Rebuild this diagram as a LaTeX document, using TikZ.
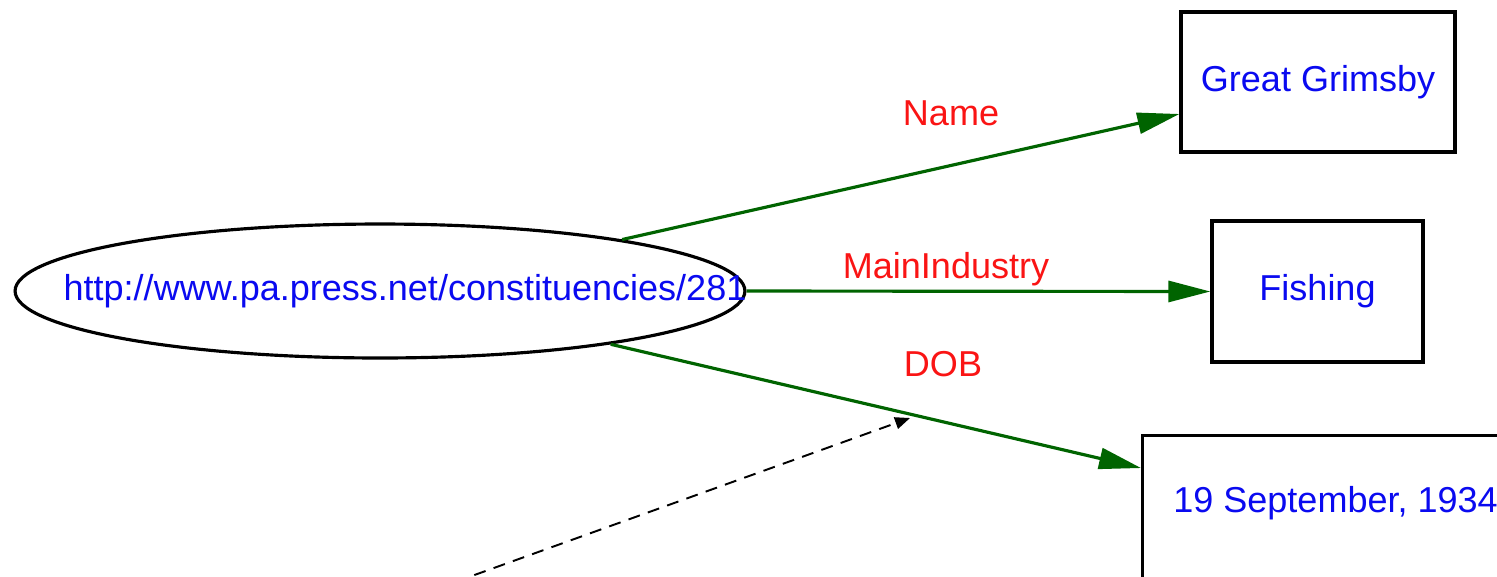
\documentclass[tikz,border=0pt]{standalone}
\usepackage{fontspec}
\setmainfont{Liberation Sans}
\usetikzlibrary{shapes.geometric,arrows.meta,calc}

\definecolor{edgegreen}{RGB}{0,100,0}
\definecolor{valblue}{RGB}{10,10,240}
\definecolor{labred}{RGB}{250,20,20}

\tikzset{
  txt/.style={font=\fontsize{20.5pt}{24pt}\selectfont, inner sep=0pt},
  valtext/.style={txt, text=valblue},
  proplabel/.style={txt, text=labred, anchor=base},
  resource/.style={ellipse, draw=black, line width=1.8pt, inner sep=0pt},
  literal/.style={rectangle, draw=black, line width=1.9pt, inner sep=0pt, txt, text=valblue},
  property/.style={draw=edgegreen, line width=1.8pt,
    -{Triangle[length=0.84cm, width=0.42cm, fill=edgegreen]}},
  pointer/.style={draw=black, line width=1.1pt, dash pattern=on 0.24cm off 0.17cm,
    -{Triangle[length=0.3cm, width=0.24cm, fill=black]}}
}

\begin{document}
\begin{tikzpicture}[x=0.02cm, y=-0.02cm]
  \useasboundingbox[fill=white] (0,0) rectangle (1497,576);

  % subject resource
  \node[resource, minimum width=14.6cm, minimum height=2.68cm] (subj) at (380,291) {};
  \node[valtext, anchor=base] (uri) at (405,300) {http://www.pa.press.net/constituencies/281};

  % literal values
  \node[literal, minimum width=5.48cm, minimum height=2.8cm] (gg) at (1318,82) {Great Grimsby};
  \node[literal, minimum width=4.22cm, minimum height=2.82cm] (fish) at (1317.5,291.5) {Fishing};
  \node[literal, anchor=north west, minimum width=8cm, minimum height=3.6cm] (dobbox) at (1141,434) {};
  \node[valtext, anchor=base west] (dob) at (1173,512) {19 September, 1934};

  % properties
  \draw[property] (subj.12) -- ($(gg.west)+(0,32)$);
  \draw[property] (subj.east) -- (fish.west);
  \draw[property] (subj.-13) -- ($(dobbox.north west)+(0,34)$);

  \node[proplabel] (lname) at (951,125) {Name};
  \node[proplabel] (lind) at (946,278) {MainIndustry};
  \node[proplabel] (ldob) at (943,376) {DOB};

  % pointer onto the DOB arc
  \coordinate (src) at (455,582);
  \coordinate (tgt) at (910,418);
  \draw[pointer] (src) -- (tgt);
\end{tikzpicture}
\end{document}
